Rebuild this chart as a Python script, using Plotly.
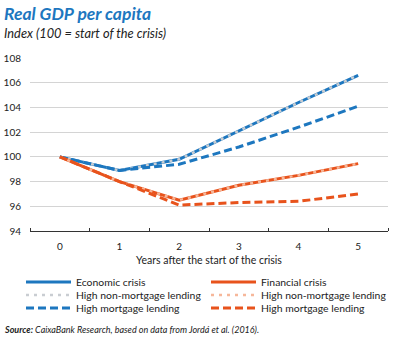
import plotly.graph_objects as go

years = [0, 1, 2, 3, 4, 5]
econ = [100, 98.9, 99.8, 102.1, 104.4, 106.6]
econ_nonmort = [100, 98.9, 99.8, 102.1, 104.4, 106.6]
econ_mort = [100, 98.9, 99.4, 100.8, 102.4, 104.1]
fin = [100, 98.0, 96.5, 97.7, 98.5, 99.45]
fin_nonmort = [100, 98.0, 96.5, 97.7, 98.5, 99.45]
fin_mort = [100, 98.0, 96.1, 96.3, 96.4, 97.0]
yticks = [94, 96, 98, 100, 102, 104, 106, 108]

BLUE = "#1d77bf"
ORANGE = "#e8531c"
GRAY = "#c9cdd2"
LORANGE = "#f6b79a"
FONT = "Lato"

# plot area geometry (px)
L, R, T, B = 30, 388, 58, 231
W, H = 393, 338
def px(x):
    return (x - L) / (R - L)
def py(y):
    return (B - y) / (B - T)

fig = go.Figure()
fig.add_trace(go.Scatter(x=years, y=econ, mode="lines", name="Economic crisis",
                         line=dict(color=BLUE, width=3), legend="legend", legendrank=1))
fig.add_trace(go.Scatter(x=years, y=econ_nonmort, mode="lines", name="High non-mortgage lending",
                         line=dict(color=GRAY, width=2.5, dash="3px,5px"), legend="legend2", legendrank=1))
fig.add_trace(go.Scatter(x=years, y=econ_mort, mode="lines", name="High mortgage lending",
                         line=dict(color=BLUE, width=3, dash="8px,4px"), legend="legend3", legendrank=1))
fig.add_trace(go.Scatter(x=years, y=fin, mode="lines", name="Financial crisis",
                         line=dict(color=ORANGE, width=3), legend="legend", legendrank=2))
fig.add_trace(go.Scatter(x=years, y=fin_nonmort, mode="lines", name="High non-mortgage lending",
                         line=dict(color=LORANGE, width=2.5, dash="3px,5px"), legend="legend2", legendrank=2))
fig.add_trace(go.Scatter(x=years, y=fin_mort, mode="lines", name="High mortgage lending",
                         line=dict(color=ORANGE, width=3, dash="8px,4px"), legend="legend3", legendrank=2))

leg_common = dict(orientation="h", xanchor="left", yanchor="middle", entrywidth=125,
                  entrywidthmode="pixels", itemwidth=45, font=dict(family=FONT, size=10.4, color="#222"),
                  bgcolor="rgba(0,0,0,0)", itemclick=False, itemdoubleclick=False,
                  traceorder="normal")

fig.update_layout(
    width=W, height=H,
    margin=dict(l=L, r=W - R, t=T, b=H - B),
    paper_bgcolor="white", plot_bgcolor="white",
    showlegend=True,
    legend=dict(**leg_common, x=px(21), y=py(282)),
    legend2=dict(**leg_common, x=px(21), y=py(295)),
    legend3=dict(**leg_common, x=px(21), y=py(308)),
    font=dict(family=FONT, size=10, color="#222"),
    xaxis=dict(range=[-0.5, 5.5], tickvals=years, ticktext=[str(v) for v in years],
               showgrid=False, zeroline=False, showline=True, linecolor="#333", linewidth=1,
               ticks="", tickfont=dict(size=10, color="#222"), ticklabelstandoff=6,
               minor=dict(tick0=-0.5, dtick=1, ticks="inside", ticklen=3, tickcolor="#333", showgrid=False),
               title=dict(text="Years after the start of the crisis", font=dict(size=10.5, color="#222"), standoff=5),
               fixedrange=True),
    yaxis=dict(range=[94, 108], tickvals=yticks, showgrid=True, gridcolor="#d4d4d4", gridwidth=1,
               zeroline=False, showline=False, ticks="", tickfont=dict(size=10, color="#222"),
               ticklabelstandoff=8, fixedrange=True),
    annotations=[
        dict(text="<b><i>Real GDP per capita</i></b>", xref="paper", yref="paper",
             x=px(2), y=py(13), xanchor="left", yanchor="middle", showarrow=False,
             font=dict(family=FONT, size=17.5, color=BLUE)),
        dict(text="<i>Index (100 = start of the crisis)</i>", xref="paper", yref="paper",
             x=px(2), y=py(33), xanchor="left", yanchor="middle", showarrow=False,
             font=dict(family=FONT, size=12.8, color="#222")),
        dict(text="<b><i>Source:</i></b><i> CaixaBank Research, based on data from Jordá et al. (2016).</i>",
             xref="paper", yref="paper", x=px(2), y=py(329), xanchor="left", yanchor="middle",
             showarrow=False, font=dict(family=FONT, size=9, color="#222")),
    ],
)

fig.write_html("out.html")
